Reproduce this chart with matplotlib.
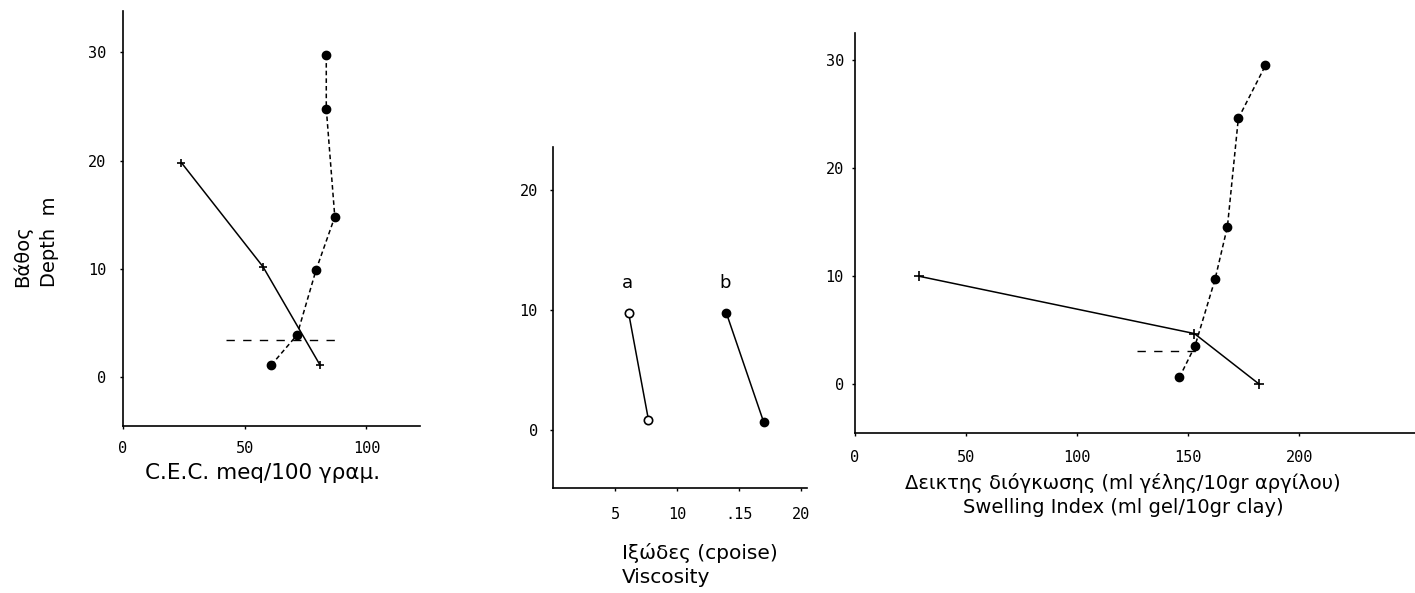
import matplotlib
matplotlib.use("Agg")
import matplotlib.pyplot as plt

# ---- Data ----
# Panel 1: C.E.C. vs depth
cec_solid_x = [24, 57.5, 81]
cec_solid_y = [19.8, 10.2, 1.1]
cec_dash_x = [83.5, 83.5, 87, 79.3, 71.5, 60.8]
cec_dash_y = [29.7, 24.8, 14.8, 9.9, 3.9, 1.1]
cec_hline_y = 3.4
cec_hline_x = [42.5, 87]

# Panel 2: Viscosity
visc_a_x = [6.1, 7.7]
visc_a_y = [9.8, 0.9]
visc_b_x = [14.0, 17.0]
visc_b_y = [9.75, 0.7]
visc_ticks = [5, 10, 15, 20]
visc_ticklabels = ["5", "10", ".15", "20"]

# Panel 3: Swelling index
sw_solid_x = [28.8, 152.7, 182]
sw_solid_y = [10, 4.7, 0]
sw_dash_x = [146, 153, 162, 167.6, 172.5, 184.7]
sw_dash_y = [0.65, 3.55, 9.7, 14.6, 24.6, 29.5]
sw_hline_y = 3.1
sw_hline_x = [127, 155]

plt.rcParams['font.family'] = ['DejaVu Sans']
TICKFAMILY = 'DejaVu Sans Mono'
TICKSIZE = 11

fig = plt.figure(figsize=(14.15, 5.93), dpi=100)
W, H = 1415, 593

def add_axes(l, r, t, b):
    return fig.add_axes([l / W, (H - b) / H, (r - l) / W, (b - t) / H])

def style(ax, ypad=8, xpad=8):
    for s in ['top', 'right']:
        ax.spines[s].set_visible(False)
    for s in ['left', 'bottom']:
        ax.spines[s].set_linewidth(1.2)
    ax.tick_params(axis='y', length=2, width=1, pad=ypad)
    ax.tick_params(axis='x', length=2, width=1, pad=xpad)
    for lab in ax.get_xticklabels() + ax.get_yticklabels():
        lab.set_fontfamily(TICKFAMILY)
        lab.set_fontsize(TICKSIZE)

def figtext(x, y, s, **kw):
    return fig.text(x / W, 1 - y / H, s, **kw)

# Panel 1
ax1 = add_axes(123, 420, 11, 426)
ax1.plot(cec_solid_x, cec_solid_y, color='k', lw=1.1, marker='+', ms=6, mew=1.2)
ax1.plot(cec_dash_x, cec_dash_y, color='k', lw=1.1, ls=(0, (3, 2)), marker='o', ms=6)
ax1.plot(cec_hline_x, [cec_hline_y] * 2, color='k', lw=1.0, ls=(0, (6, 6)))
ax1.set_xlim(0, 122)
ax1.set_ylim(-4.5, 33.8)
ax1.set_xticks([0, 50, 100])
ax1.set_yticks([0, 10, 20, 30])
style(ax1, ypad=10, xpad=9)
figtext(263, 473, "C.E.C. meq/100 γραμ.", fontsize=15.5, ha='center', va='center')
figtext(36, 242, "Βάθος\nDepth  m", fontsize=14, rotation=90, ha='center', va='center',
        multialignment='left', linespacing=1.5)

# Panel 2
ax2 = add_axes(553, 807, 147, 488)
ax2.plot(visc_a_x, visc_a_y, color='k', lw=1.1, marker='o', ms=6, mfc='white', mew=1.2)
ax2.plot(visc_b_x, visc_b_y, color='k', lw=1.1, marker='o', ms=6)
ax2.text(6.0, 12.3, "a", fontsize=13, ha='center', va='center')
ax2.text(13.9, 12.3, "b", fontsize=13, ha='center', va='center')
ax2.set_xlim(0, 20.5)
ax2.set_ylim(-4.8, 23.6)
ax2.set_xticks(visc_ticks)
ax2.set_xticklabels(visc_ticklabels)
ax2.set_yticks([0, 10, 20])
style(ax2, ypad=9, xpad=12)
figtext(622, 565, "Ιξώδες (cpoise)\nViscosity", fontsize=14.5, ha='left', va='center',
        linespacing=1.3)

# Panel 3
ax3 = add_axes(855, 1415, 33, 433)
ax3.plot(sw_solid_x, sw_solid_y, color='k', lw=1.1, marker='+', ms=7, mew=1.2)
ax3.plot(sw_dash_x, sw_dash_y, color='k', lw=1.1, ls=(0, (3, 2)), marker='o', ms=6)
ax3.plot(sw_hline_x, [sw_hline_y] * 2, color='k', lw=1.0, ls=(0, (6, 6)))
ax3.set_xlim(0, 252)
ax3.set_ylim(-4.5, 32.5)
ax3.set_xticks([0, 50, 100, 150, 200])
ax3.set_yticks([0, 10, 20, 30])
style(ax3, ypad=6, xpad=10)
figtext(1123, 495,
        "Δεικτης διόγκωσης (ml γέλης/10gr αργίλου)\nSwelling Index (ml gel/10gr clay)",
        fontsize=14, ha='center', va='center', linespacing=1.3)

fig.savefig("out.png", dpi=100)
